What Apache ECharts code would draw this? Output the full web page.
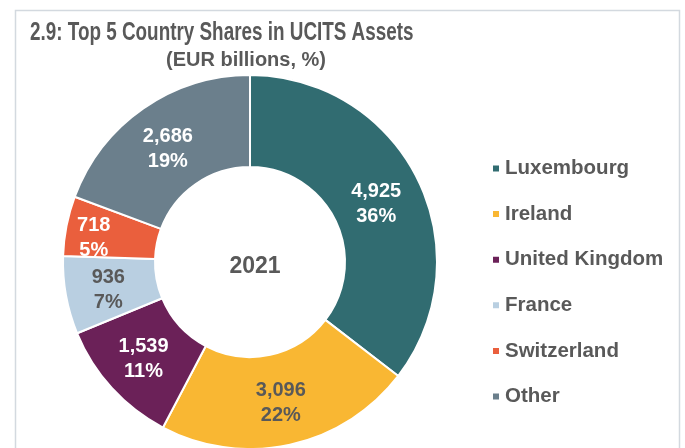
<!DOCTYPE html>
<html><head><meta charset="utf-8">
<script src="https://cdn.jsdelivr.net/npm/echarts@6/dist/echarts.min.js"></script>
<style>html,body{margin:0;padding:0;background:#fff;}#c{width:685px;height:448px;}</style>
</head><body><div id="c"></div>
<script>
const countries = ['Luxembourg','Ireland','United Kingdom','France','Switzerland','Other'];
const values = [4925, 3096, 1539, 936, 718, 2686];
const shares = ['36%','22%','11%','7%','5%','19%'];
const year = '2021';
const titleText = '2.9: Top 5 Country Shares in UCITS Assets';
const subtitleText = '(EUR billions, %)';

const colors = ['#316c71','#f9b733','#6b2158','#b9cfe1','#ea5f3d','#6b7f8c'];
const labelColors = ['#ffffff','#595959','#ffffff','#595959','#ffffff','#ffffff'];
const labelOffsets = [[-3,6],[0,0],[0,0],[0,2],[-15,4],[0,5]];
const fmt = v => v.toLocaleString('en-US');

const chart = echarts.init(document.getElementById('c'));
chart.setOption({
  animation:false,
  textStyle:{fontFamily:'Liberation Sans, Arial, sans-serif'},
  title:[
    {text:subtitleText,left:241,top:45,textAlign:'center',textStyle:{fontSize:20,fontWeight:'bold',color:'#595959'}},
    {text:year,left:250,top:262,textAlign:'center',textVerticalAlign:'middle',textStyle:{fontSize:23,fontWeight:'bold',color:'#595959'}}
  ],
  graphic:[
    {type:'polyline',silent:true,shape:{points:[[15.5,460],[15.5,10.5],[679.5,10.5],[679.5,460]]},style:{stroke:'#d3d9df',lineWidth:1.5,fill:null}},
    {type:'text',silent:true,x:30,y:21,scaleX:0.755,style:{text:titleText,font:'bold 25px "Liberation Sans", Arial, sans-serif',fill:'#595959',textVerticalAlign:'top'}}
  ],
  legend:{orient:'vertical',left:486,top:153,itemWidth:8,itemHeight:8,itemGap:24.6,icon:'rect',
    textStyle:{fontSize:20.5,fontWeight:'bold',color:'#595959'},data:countries},
  series:[{type:'pie',center:[250,262],radius:[95,187],startAngle:90,clockwise:true,
    itemStyle:{borderColor:'#fff',borderWidth:2},
    label:{position:'inside',fontSize:20,fontWeight:'bold',lineHeight:25},
    labelLine:{show:false},
    data:countries.map((n,i)=>({name:n,value:values[i],itemStyle:{color:colors[i]},
      label:{color:labelColors[i],offset:labelOffsets[i],formatter:fmt(values[i])+'\n'+shares[i]}}))
  }]
});
</script></body></html>
